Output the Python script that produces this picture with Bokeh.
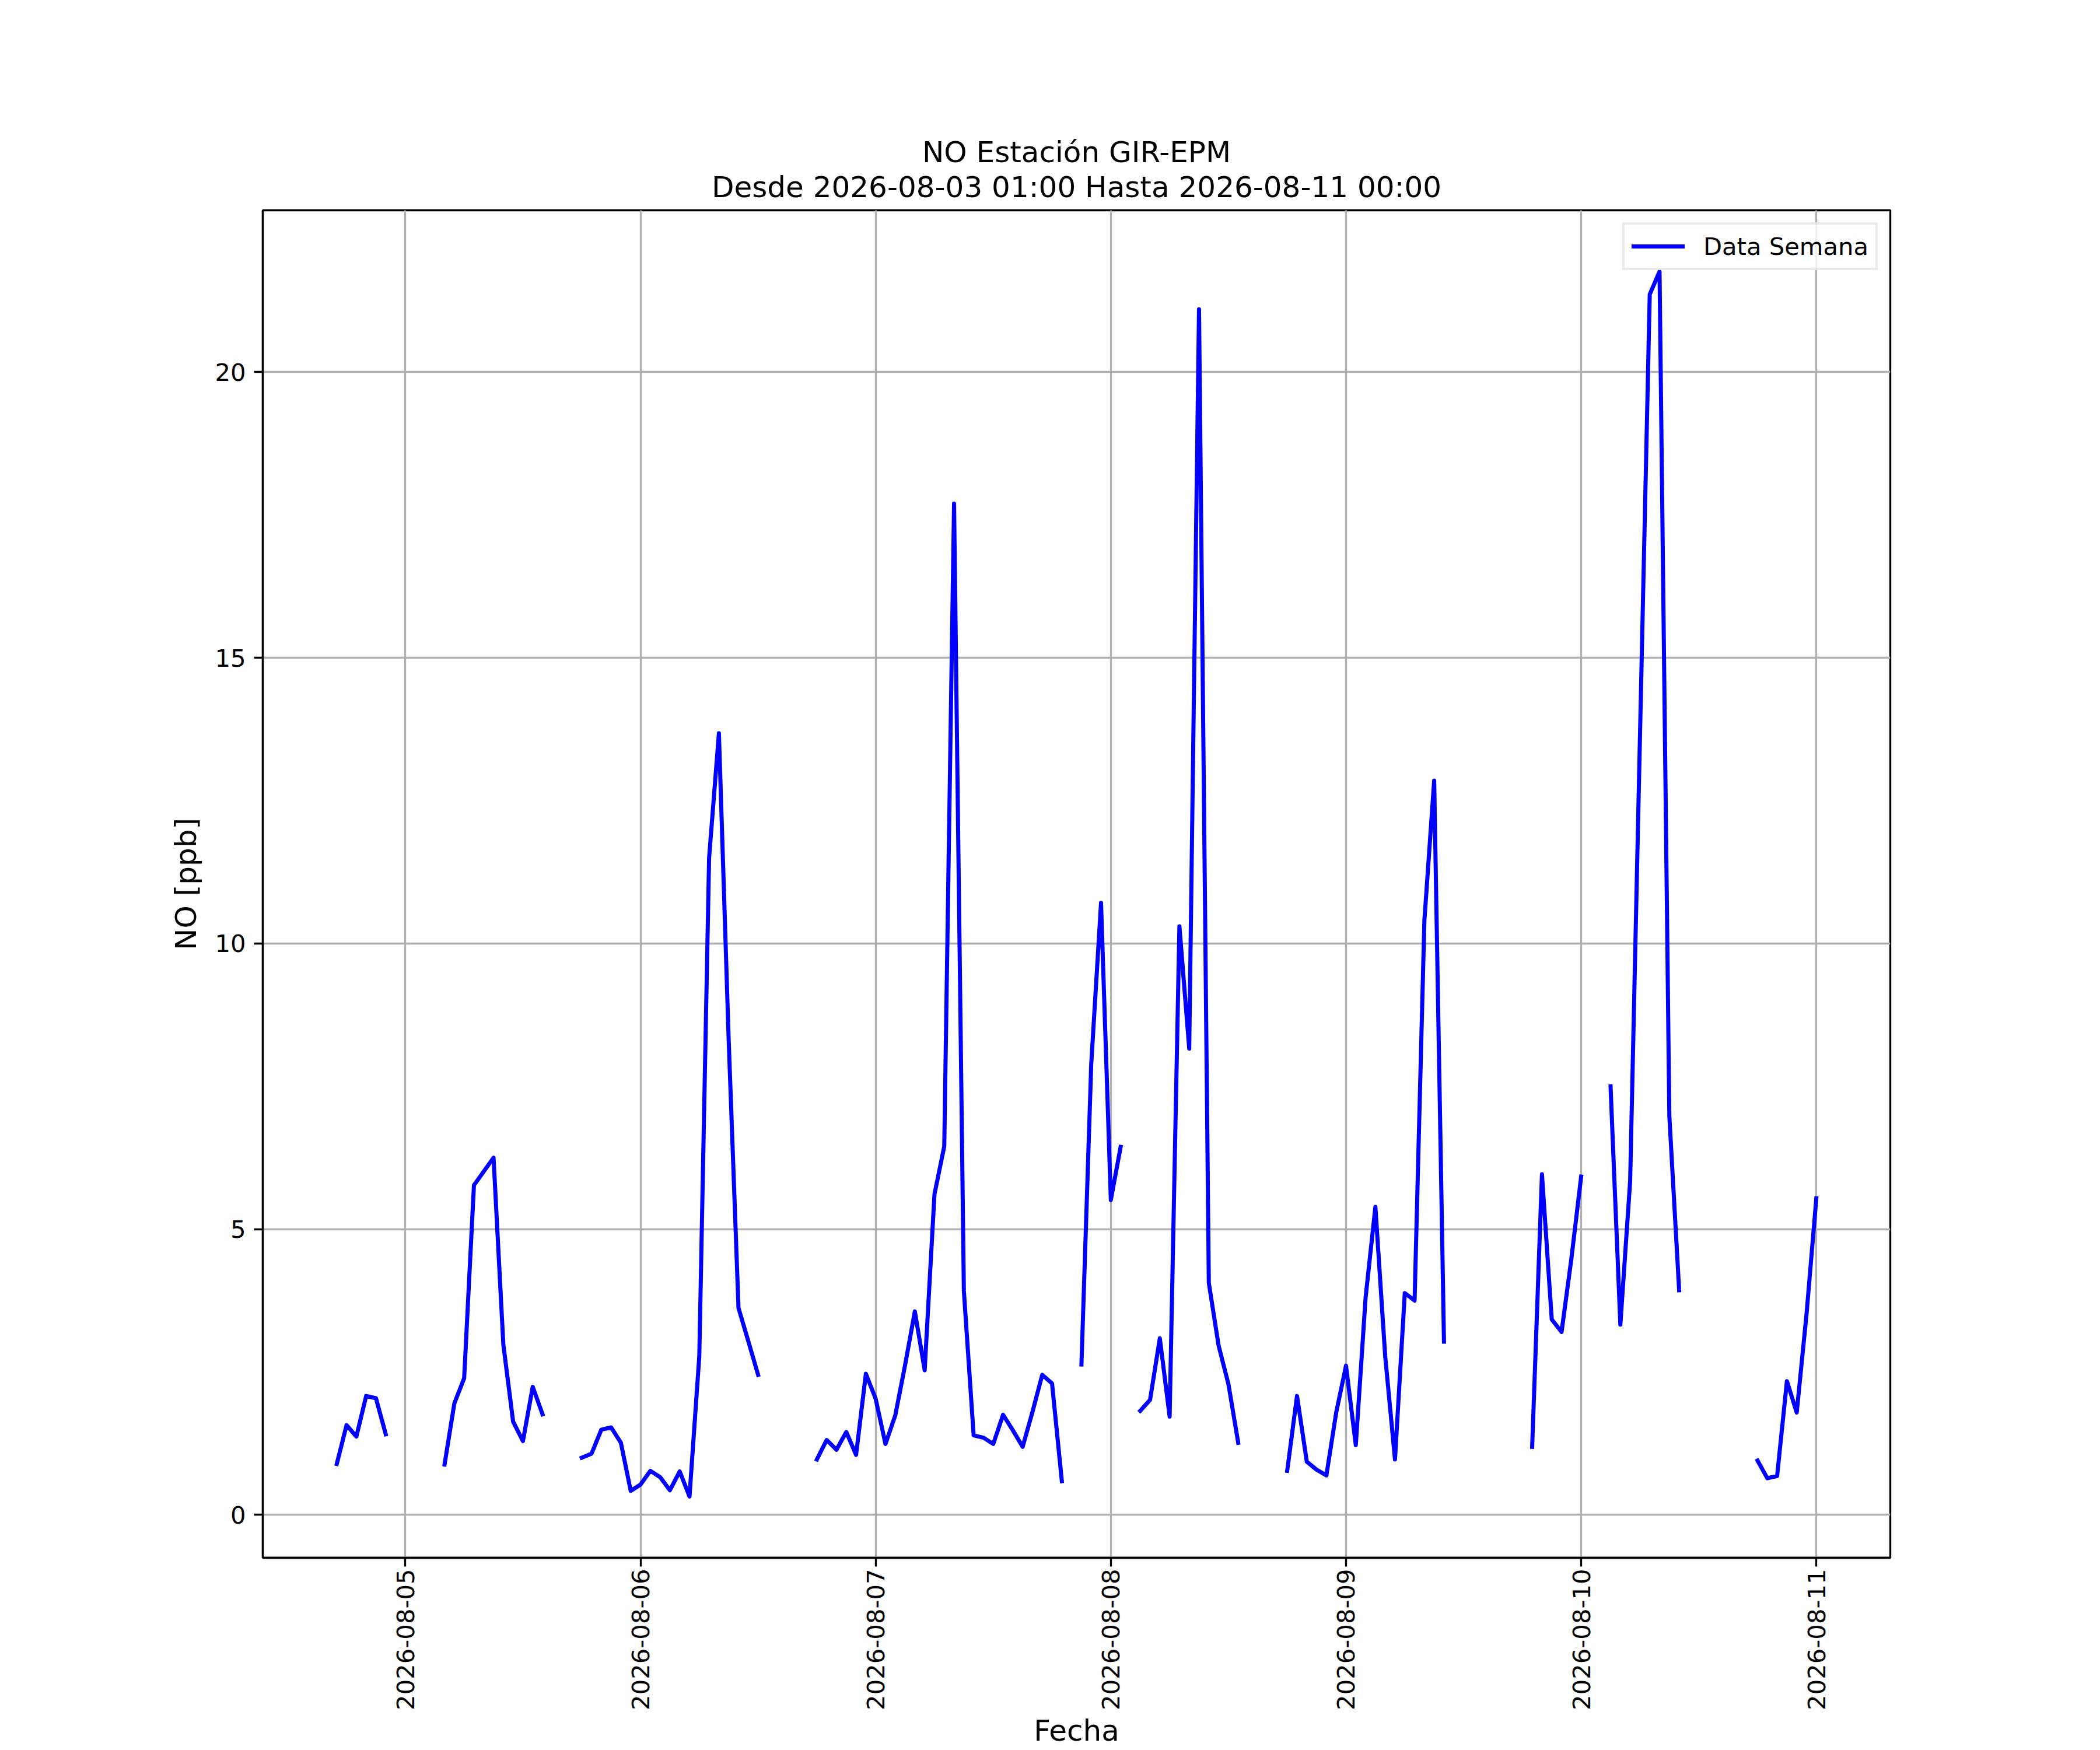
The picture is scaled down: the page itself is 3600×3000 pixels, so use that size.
import numpy as np
from bokeh.plotting import figure
from bokeh.models import (ColumnDataSource, Range1d, FixedTicker, DatetimeTickFormatter,
                          Legend, LegendItem, Title, LinearAxis, CustomJSTickFormatter)
from bokeh.embed import file_html
from bokeh.resources import INLINE

nan = float("nan")

# ---- data (hourly NO values, ppb) ----
start_time = "2026-08-04T17:00"
no_ppb_0804 = [0.89, 1.57, 1.37, 2.08, 2.04, 1.41, nan]                     # 17:00-23:00
no_ppb_0805 = [nan, nan, nan, nan, 0.88, 1.95, 2.39, 5.77, 6.01, 6.25, 2.98, 1.63,
               1.29, 2.24, 1.76, nan, nan, nan, 1.00, 1.07, 1.49, 1.53, 1.26, 0.42]
no_ppb_0806 = [0.53, 0.77, 0.66, 0.43, 0.76, 0.32, 2.78, 11.50, 13.68, 8.30, 3.62, 3.04,
               2.45, nan, nan, nan, nan, nan, 0.97, 1.31, 1.14, 1.45, 1.05, 2.47]
no_ppb_0807 = [2.03, 1.24, 1.74, 2.62, 3.56, 2.53, 5.61, 6.45, 17.70, 3.92, 1.39, 1.35,
               1.24, 1.75, 1.48, 1.19, 1.80, 2.45, 2.30, 0.59, nan, 2.63, 7.89, 10.71]
no_ppb_0808 = [5.51, 6.44, nan, 1.82, 2.01, 3.09, 1.72, 10.30, 8.16, 21.10, 4.06, 2.96,
               2.29, 1.26, nan, nan, nan, nan, 0.77, 2.08, 0.93, 0.79, 0.69, 1.79]
no_ppb_0809 = [2.61, 1.22, 3.80, 5.39, 2.78, 0.97, 3.88, 3.75, 10.40, 12.85, 3.03, nan,
               nan, nan, nan, nan, nan, nan, nan, 1.19, 5.96, 3.42, 3.20, 4.48]
no_ppb_0810 = [5.92, nan, nan, 7.50, 3.33, 5.84, 13.60, 21.36, 21.76, 6.98, 3.93, nan,
               nan, nan, nan, nan, nan, nan, 0.95, 0.64, 0.68, 2.34, 1.79, 3.51]
no_ppb_0811 = [5.54]                                                          # 00:00

x_tick_dates = ["2026-08-05", "2026-08-06", "2026-08-07", "2026-08-08",
                "2026-08-09", "2026-08-10", "2026-08-11"]
y_ticks = [0, 5, 10, 15, 20]

title_line1 = "NO Estación GIR-EPM"
title_line2 = "Desde 2026-08-03 01:00 Hasta 2026-08-11 00:00"
legend_label = "Data Semana"

# ---- build ----
values = np.array(no_ppb_0804 + no_ppb_0805 + no_ppb_0806 + no_ppb_0807 +
                  no_ppb_0808 + no_ppb_0809 + no_ppb_0810 + no_ppb_0811, dtype=float)
times = np.datetime64(start_time) + np.arange(len(values)) * np.timedelta64(1, "h")
t_ms = times.astype("datetime64[ms]").astype(np.int64).astype(float)

source = ColumnDataSource(data=dict(t=times, v=values))

valid = ~np.isnan(values)
xmin, xmax = t_ms[valid].min(), t_ms[valid].max()
ymin, ymax = values[valid].min(), values[valid].max()
xpad = 0.05 * (xmax - xmin)
ypad = 0.05 * (ymax - ymin)

FONT = "DejaVu Sans"

p = figure(width=3600, height=3000, output_backend="svg", toolbar_location=None,
           x_axis_type="datetime",
           x_range=Range1d(xmin - xpad, xmax + xpad),
           y_range=Range1d(ymin - ypad, ymax + ypad),
           min_border_left=450, min_border_right=360,
           min_border_top=360, min_border_bottom=330)

xa = p.below[0]
ya = p.left[0]

# invisible spacer between the frame and the subtitle line
spacer = LinearAxis(ticker=FixedTicker(ticks=[(xmin + xmax) / 2]),
                    formatter=CustomJSTickFormatter(code="return ''"),
                    axis_line_color=None,
                    major_tick_line_color=None, minor_tick_line_color=None,
                    major_tick_in=0, major_tick_out=11, minor_tick_in=0, minor_tick_out=0,
                    major_label_standoff=0, axis_label_standoff=0,
                    major_label_text_font_size="1px", major_label_text_color=None)
p.add_layout(spacer, "above")

sub = Title(text=title_line2, align="center", text_font=FONT, text_font_size="50px",
            text_font_style="normal", text_color="black", standoff=0)
p.add_layout(sub, "above")

p.title.text = title_line1
p.title.align = "center"
p.title.text_font = FONT
p.title.text_font_size = "50px"
p.title.text_font_style = "normal"
p.title.text_color = "black"
p.title.standoff = 0

r = p.line("t", "v", source=source, line_color="blue", line_width=7,
           line_join="round", line_cap="square")

# ticks
x_ticks_ms = [float(np.datetime64(d).astype("datetime64[ms]").astype(np.int64)) for d in x_tick_dates]
xticker = FixedTicker(ticks=x_ticks_ms)
yticker = FixedTicker(ticks=y_ticks)
xa.ticker = xticker
ya.ticker = yticker
p.xgrid.ticker = xticker
p.ygrid.ticker = yticker
fmt = "%Y-%m-%d"
xa.formatter = DatetimeTickFormatter(milliseconds=fmt, seconds=fmt, minsec=fmt, minutes=fmt,
                                     hourmin=fmt, hours=fmt, days=fmt, months=fmt, years=fmt)
xa.major_label_orientation = np.pi / 2

for ax in (xa, ya):
    ax.major_label_text_font = FONT
    ax.major_label_text_font_size = "41.7px"
    ax.major_label_text_color = "black"
    ax.axis_label_text_font = FONT
    ax.axis_label_text_font_size = "50px"
    ax.axis_label_text_font_style = "normal"
    ax.axis_label_text_color = "black"
    ax.axis_line_color = "black"
    ax.axis_line_width = 3.33
    ax.major_tick_line_color = "black"
    ax.major_tick_line_width = 3.33
    ax.major_tick_in = 0
    ax.major_tick_out = 15
    ax.minor_tick_line_color = None

xa.axis_label = "Fecha"
xa.major_label_standoff = 4
xa.axis_label_standoff = 3
ya.axis_label = "NO [ppb]"
ya.major_label_standoff = 14
ya.axis_label_standoff = 17

for g in (p.xgrid, p.ygrid):
    g.grid_line_color = "#b0b0b0"
    g.grid_line_width = 3.33

p.outline_line_color = "black"
p.outline_line_width = 3.33
p.background_fill_color = "white"
p.border_fill_color = "white"

legend = Legend(items=[LegendItem(label=legend_label, renderers=[r])],
                location="top_right", margin=21, padding=12, spacing=0,
                glyph_width=91, glyph_height=50, label_height=50, label_standoff=32,
                label_text_font=FONT, label_text_font_size="41.7px", label_text_color="black",
                border_line_color="#d6d6d6", border_line_width=4,
                background_fill_color="white", background_fill_alpha=0.8)
p.add_layout(legend)

open("out.html", "w").write(file_html(p, INLINE))
